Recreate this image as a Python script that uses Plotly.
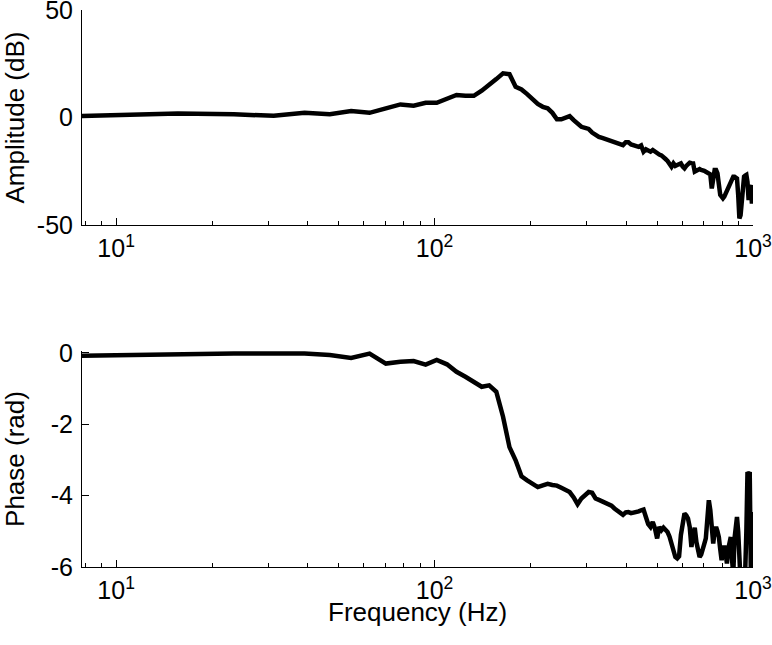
import plotly.graph_objects as go

# Frequency grid (Hz)
freq_hz = [7.8125, 15.625, 23.4375, 31.25, 39.0625, 46.875, 54.6875, 62.5, 70.3125, 78.125,
           85.9375, 93.75, 101.5625, 109.375, 117.1875, 125, 132.8125, 140.625, 148.4375, 156.25,
           164.0625, 171.875, 179.6875, 187.5, 195.3125, 203.125, 210.9375, 218.75, 226.5625, 234.375,
           242.1875, 250, 257.8125, 265.625, 273.4375, 281.25, 289.0625, 296.875, 304.6875, 312.5,
           320.3125, 328.125, 335.9375, 343.75, 351.5625, 359.375, 367.1875, 375, 382.8125, 390.625,
           398.4375, 406.25, 414.0625, 421.875, 429.6875, 437.5, 445.3125, 453.125, 460.9375, 468.75,
           476.5625, 484.375, 492.1875, 500, 507.8125, 515.625, 523.4375, 531.25, 539.0625, 546.875,
           554.6875, 562.5, 570.3125, 578.125, 585.9375, 593.75, 601.5625, 609.375, 617.1875, 625,
           632.8125, 640.625, 648.4375, 656.25, 664.0625, 671.875, 679.6875, 687.5, 695.3125, 703.125,
           710.9375, 718.75, 726.5625, 734.375, 742.1875, 750, 757.8125, 765.625, 773.4375, 781.25,
           789.0625, 796.875, 804.6875, 812.5, 820.3125, 828.125, 835.9375, 843.75, 851.5625, 859.375,
           867.1875, 875, 882.8125, 890.625, 898.4375, 906.25, 914.0625, 921.875, 929.6875, 937.5,
           945.3125, 953.125, 960.9375, 968.75, 976.5625, 984.375, 992.1875, 1000]

# Amplitude (dB)
amplitude_db = [0.7, 1.9, 1.5, 0.8, 2.2, 1.5, 3.0, 2.2, 4.3, 6.1,
                5.5, 6.9, 6.9, 8.6, 10.5, 10.1, 10.1, 12.5, 15.1, 17.9,
                20.6, 20.2, 14.3, 13.1, 10.9, 8.5, 6.3, 5.0, 4.3, 2.2,
                -0.8, -0.8, -0.3, 0.7, -1.2, -2.8, -4.3, -4.8, -5.3, -7.0,
                -8.2, -9.0, -9.5, -10.0, -10.3, -10.8, -11.4, -12.0, -12.4, -12.8,
                -11.5, -11.5, -12.5, -12.8, -13.3, -13.6, -13.0, -15.9, -14.8, -15.5,
                -15.9, -15.1, -16.0, -16.7, -17.2, -17.6, -18.2, -19.3, -20.2, -21.3,
                -22.9, -21.3, -22.5, -22.1, -21.6, -21.3, -22.8, -23.6, -22.5, -21.8,
                -21.0, -21.2, -21.3, -25.2, -24.6, -24.4, -24.0, -24.4, -24.4, -24.8,
                -25.2, -25.6, -26.0, -26.4, -33.0, -27.5, -24.4, -24.4, -26.0, -31.0,
                -36.0, -36.8, -37.6, -36.8, -35.5, -34.3, -32.5, -31.2, -29.9, -28.5,
                -27.5, -27.5, -28.0, -28.3, -36.0, -46.9, -45.5, -38.0, -30.0, -27.5,
                -27.0, -26.7, -30.0, -38.4, -33.0, -31.4, -40.0, -34.0]

# Phase (rad)
phase_rad = [-0.08, -0.03, -0.02, -0.02, -0.02, -0.06, -0.14, -0.02, -0.30, -0.25,
             -0.23, -0.33, -0.20, -0.32, -0.53, -0.67, -0.81, -0.95, -0.91, -1.09,
             -1.79, -2.64, -3.01, -3.46, -3.57, -3.68, -3.76, -3.71, -3.67, -3.70,
             -3.72, -3.78, -3.83, -3.90, -4.05, -4.24, -4.08, -3.98, -3.90, -3.92,
             -4.08, -4.12, -4.16, -4.20, -4.24, -4.28, -4.36, -4.42, -4.50, -4.54,
             -4.47, -4.46, -4.49, -4.48, -4.46, -4.44, -4.41, -4.39, -4.60, -4.80,
             -4.88, -4.74, -4.92, -5.20, -4.88, -4.97, -4.90, -4.95, -5.02, -5.15,
             -5.39, -5.60, -5.72, -5.76, -5.70, -5.10, -4.70, -4.50, -4.55, -4.64,
             -4.88, -5.44, -5.10, -4.90, -5.30, -5.55, -5.72, -5.65, -5.53, -5.35,
             -5.20, -4.60, -4.13, -4.40, -4.88, -5.34, -5.00, -4.88, -5.00, -5.16,
             -5.50, -5.81, -5.60, -5.40, -5.60, -5.90, -5.50, -5.30, -5.16, -5.80,
             -6.20, -5.20, -4.83, -4.60, -5.00, -6.30, -6.40, -6.40, -6.40, -6.30,
             -6.10, -5.00, -3.34, -3.40, -3.34, -6.10, -6.10, -4.46]

x_major_ticks = [10, 100, 1000]
x_major_labels = ["10<sup>1</sup>", "10<sup>2</sup>", "10<sup>3</sup>"]
x_minor_ticks = [8, 9, 20, 30, 40, 50, 60, 70, 80, 90, 200, 300, 400, 500, 600, 700, 800, 900]
amp_ticks = [-50, 0, 50]
amp_labels = ["-50", "0", "50"]
phase_ticks = [-6, -4, -2, 0]
phase_labels = ["-6", "-4", "-2", "0"]

FONT = "Liberation Sans, Arial, sans-serif"

fig = go.Figure()
fig.add_trace(go.Scatter(x=freq_hz, y=amplitude_db, mode="lines",
                         line=dict(color="black", width=4.5), xaxis="x", yaxis="y",
                         showlegend=False, hoverinfo="skip"))
fig.add_trace(go.Scatter(x=freq_hz, y=phase_rad, mode="lines",
                         line=dict(color="black", width=4.5), xaxis="x2", yaxis="y2",
                         showlegend=False, hoverinfo="skip"))

xcommon = dict(type="log", range=[0.89279, 3.0], showgrid=False, zeroline=False,
               showline=True, linecolor="black", linewidth=1, mirror=False,
               ticks="inside", ticklen=7, tickwidth=1, tickcolor="black",
               tickvals=x_major_ticks, ticktext=x_major_labels,
               tickfont=dict(family=FONT, size=25, color="black"),
               ticklabelstandoff=1, ticklabeloverflow="allow",
               minor=dict(ticks="inside", ticklen=4, tickwidth=1, tickcolor="black",
                          tickvals=x_minor_ticks, showgrid=False),
               automargin=False)
ycommon = dict(showgrid=False, zeroline=False, showline=True, linecolor="black",
               linewidth=1, mirror=False, ticks="inside", ticklen=7, tickwidth=1,
               tickcolor="black", tickfont=dict(family=FONT, size=25, color="black"),
               ticklabelstandoff=3, ticklabeloverflow="allow", automargin=False)

fig.update_layout(
    width=772, height=645,
    paper_bgcolor="white", plot_bgcolor="white",
    margin=dict(l=82, r=19, t=10, b=78),
    font=dict(family=FONT, color="black"),
    xaxis=dict(**xcommon, domain=[0, 1], anchor="y"),
    yaxis=dict(**ycommon, domain=[0.614, 1.0], anchor="x", range=[-50, 50.05],
               tickvals=amp_ticks, ticktext=amp_labels),
    xaxis2=dict(**xcommon, domain=[0, 1], anchor="y2"),
    yaxis2=dict(**ycommon, domain=[0.0, 0.388], anchor="x2", range=[-6, 0.056],
                tickvals=phase_ticks, ticktext=phase_labels),
    annotations=[
        dict(text="Amplitude (dB)", xref="paper", x=0, xshift=-67, yref="y domain", y=0.5,
             textangle=-90, showarrow=False, xanchor="center", yanchor="middle",
             font=dict(family=FONT, size=26, color="black")),
        dict(text="Phase (rad)", xref="paper", x=0, xshift=-67, yref="y2 domain", y=0.5,
             textangle=-90, showarrow=False, xanchor="center", yanchor="middle",
             font=dict(family=FONT, size=26, color="black")),
        dict(text="Frequency (Hz)", xref="x2 domain", x=0.5, yref="paper", y=0, yshift=-45,
             showarrow=False, xanchor="center", yanchor="middle",
             font=dict(family=FONT, size=26, color="black")),
    ],
)

fig.write_html("out.html", config={"displayModeBar": False},
               post_script="document.body.style.margin='0px';")
